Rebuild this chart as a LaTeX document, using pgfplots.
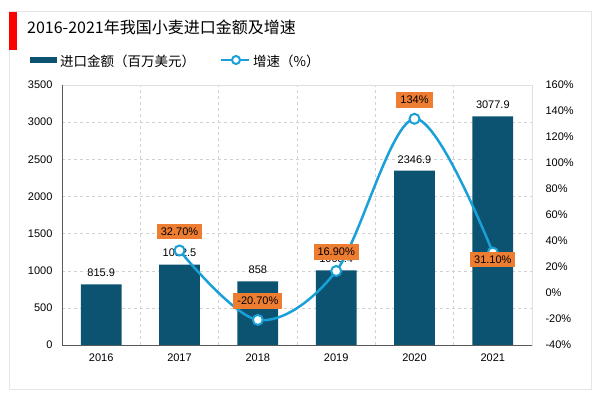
\documentclass[border=0pt]{standalone}
\usepackage{fontspec}
\setmainfont{Liberation Sans}
\newfontfamily\cjk{Noto Sans CJK SC}
\usepackage{pgfplots}
\pgfplotsset{compat=1.18}
\definecolor{bardark}{HTML}{0B5370}
\definecolor{linecyan}{HTML}{1AA0D8}
\definecolor{lblorange}{HTML}{ED7D31}
\begin{document}
\begin{tikzpicture}[x=1pt,y=1pt]
\path[use as bounding box] (0,0) rectangle (600,393);
\draw[gray!20, line width=1pt] (9,3) rectangle (591,381);
\fill[red] (9,343) rectangle (17,381);
\node[anchor=west, inner sep=0pt, font=\cjk\fontsize{16}{19}\selectfont] at (27,366) {2016-2021年我国小麦进口金额及增速};
% legend
\fill[bardark] (30,330) rectangle (57,336);
\node[anchor=west, inner sep=0pt, font=\cjk\fontsize{13.5}{16}\selectfont] at (60,332) {进口金额（百万美元）};
\draw[linecyan, line width=2.5pt] (221,333) -- (249,333);
\draw[linecyan, line width=2pt, fill=white] (236,333) circle (4);
\node[anchor=west, inner sep=0pt, font=\cjk\fontsize{13.5}{16}\selectfont] at (253,332) {增速（\%）};

\begin{axis}[at={(62pt,48pt)}, anchor=south west, scale only axis,
  width=470pt, height=260pt,
  xmin=-0.5, xmax=5.5, ymin=0, ymax=3500,
  ytick={0,500,...,3500},
  xtick={0,...,5}, xticklabels={2016,2017,2018,2019,2020,2021},
  minor xtick={0.5,1.5,...,4.5},
  xminorgrids, ymajorgrids,
  grid style={dashed, gray!35},
  minor grid style={dashed, gray!35},
  axis line style={gray!25},
  tick style={draw=none},
  ticklabel style={font=\fontsize{11}{13}\selectfont},
  xticklabel style={yshift=-5pt},
  yticklabel style={xshift=-6pt},
  /pgf/number format/assume math mode=true,
  /pgf/number format/1000 sep={},
  clip=false]
\addplot[ybar, bar width=0.52, fill=bardark, draw=none,
  nodes near coords, point meta=explicit symbolic,
  every node near coord/.style={font=\fontsize{11}{13}\selectfont, text=black, anchor=south, yshift=4pt}]
  coordinates {(0,815.9)[815.9] (1,1082.5)[1082.5] (2,858)[858] (3,1003.4)[1003.4] (4,2346.9)[2346.9] (5,3077.9)[3077.9]};
\draw[gray!70!black, line width=0.8pt] (rel axis cs:0,1) -- (rel axis cs:0,0) -- (rel axis cs:1,0);
\end{axis}

\begin{axis}[at={(62pt,48pt)}, anchor=south west, scale only axis,
  width=470pt, height=260pt,
  xmin=-0.5, xmax=5.5, ymin=-40, ymax=160,
  axis x line=none, axis y line*=right,
  ytick={-40,-20,...,160},
  yticklabel={\pgfmathprintnumber{\tick}\%},
  axis line style={draw=none},
  tick style={draw=none},
  ticklabel style={font=\fontsize{11}{13}\selectfont},
  yticklabel style={xshift=10pt},
  /pgf/number format/assume math mode=true,
  clip=false]
\addplot[linecyan, line width=2.5pt, smooth, tension=0.55, mark=*, mark size=5pt,
  mark options={fill=white, draw=linecyan, line width=2pt}]
  coordinates {(1,32.7) (2,-20.7) (3,16.9) (4,134) (5,31.1)};
\addplot[draw=none, nodes near coords, point meta=explicit symbolic,
  every node near coord/.style={fill=lblorange, text=black, inner xsep=4pt, inner ysep=4pt, font=\fontsize{11}{13}\selectfont, anchor=center, yshift=19pt}]
  coordinates {(1,32.7)[32.70\%] (2,-20.7)[-20.70\%] (3,16.9)[16.90\%] (4,134)[134\%]};
\addplot[draw=none, nodes near coords, point meta=explicit symbolic,
  every node near coord/.style={fill=lblorange, text=black, inner xsep=4pt, inner ysep=4pt, font=\fontsize{11}{13}\selectfont, anchor=center, yshift=-7pt}]
  coordinates {(5,31.1)[31.10\%]};
\end{axis}
\end{tikzpicture}
\end{document}
